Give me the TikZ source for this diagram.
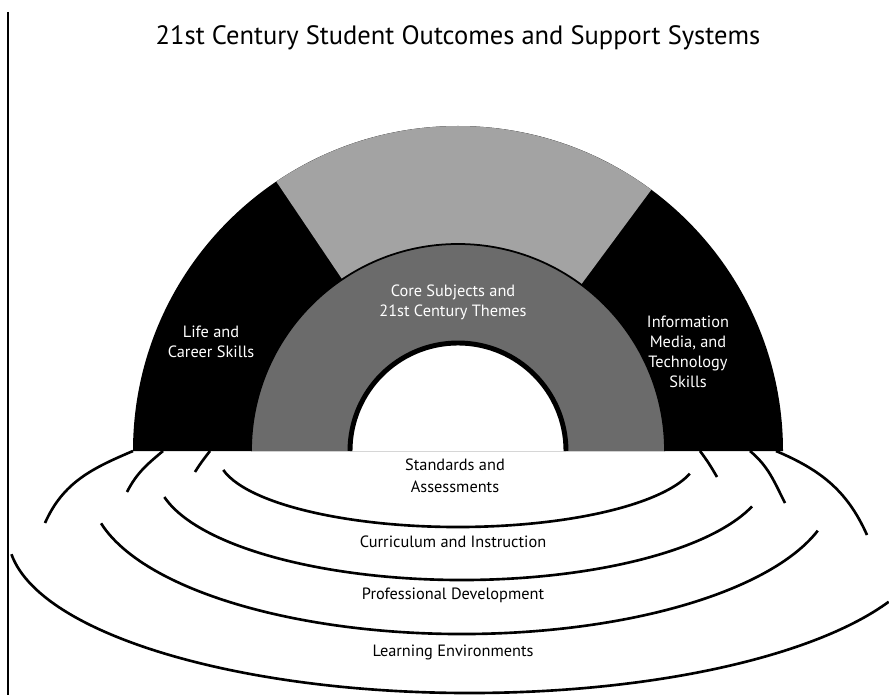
\documentclass[tikz,border=0pt]{standalone}
\usepackage{fontspec}
\setmainfont{PT Sans}
\definecolor{lightband}{gray}{0.64}
\definecolor{midband}{gray}{0.42}
\begin{document}
\begin{tikzpicture}[x=0.02cm,y=0.02cm,
	ripple/.style={draw=black,line width=1.5pt},
	bandtext/.style={text=white,align=center,font=\fontsize{9.3}{11.3}\selectfont},
	ringtext/.style={text=black,align=center,font=\fontsize{9.3}{12.5}\selectfont}]
	\useasboundingbox (0,0) rectangle (889,697);
	
	\draw[line width=1.1pt] (8,685) -- (8,2);
	\node[font=\fontsize{15.1}{18}\selectfont] (title) at (458,659) {21st Century Student Outcomes and Support Systems};
	
	% rainbow
	\fill[black] ([shift=(0:325)]458,246) arc (0:180:325) -- cycle;
	\fill[lightband] ([shift=(53.5:325)]458,246) arc (53.5:124:325)
	-- ([shift=(124:207)]458,246) arc (124:53.5:207) -- cycle;
	\fill[midband] ([shift=(0:207)]458,246) arc (0:180:207) -- cycle;
	\fill[white] ([shift=(0:107)]458,246) arc (0:180:107) -- cycle;
	\draw[line width=1pt] ([shift=(0:207)]458,246) arc (0:180:207);
	\draw[line width=2.8pt] ([shift=(0:108)]458,246) arc (0:180:108);
	
	\node[bandtext] (life) at (211,355) {Life and\\Career Skills};
	\node[bandtext] (info) at (688,345) {Information\\Media, and\\Technology\\Skills};
	\node[bandtext] (core) at (453,395) {Core Subjects and\\21st Century Themes};
	
	% ripples
	\draw[ripple] (133,246) to[out=203,in=66] (45,174);
	\draw[ripple] (163,246) to[out=220,in=63] (127,205);
	\draw[ripple] (210,246) to[out=232,in=58] (195,225);
	\draw[ripple] (776,246) to[out=337,in=114] (867,162);
	\draw[ripple] (750,246) to[out=320,in=117] (785,194);
	\draw[ripple] (700,246) to[out=307,in=120] (717,220);
	
	\draw[ripple] ([shift={(192:240 and 72)}]458,242) arc (192:345:240 and 72);
	\draw[ripple] ([shift={(193.4:306 and 108)}]462,225) arc (193.4:341.4:306 and 108);
	\draw[ripple] ([shift={(194:372 and 146)}]462,209) arc (194:343:372 and 146);
	\draw[ripple] ([shift={(187:462 and 158)}]470,162) arc (187:335:462 and 158);
	
	\node[ringtext] (standards) at (455,221) {Standards and\\Assessments};
	\node[ringtext] (curriculum) at (453,155) {Curriculum and Instruction};
	\node[ringtext] (profdev) at (453,102) {Professional Development};
	\node[ringtext] (learnenv) at (453,45) {Learning Environments};
	%\node (top) at (458,500) {};
\end{tikzpicture}
\end{document}
